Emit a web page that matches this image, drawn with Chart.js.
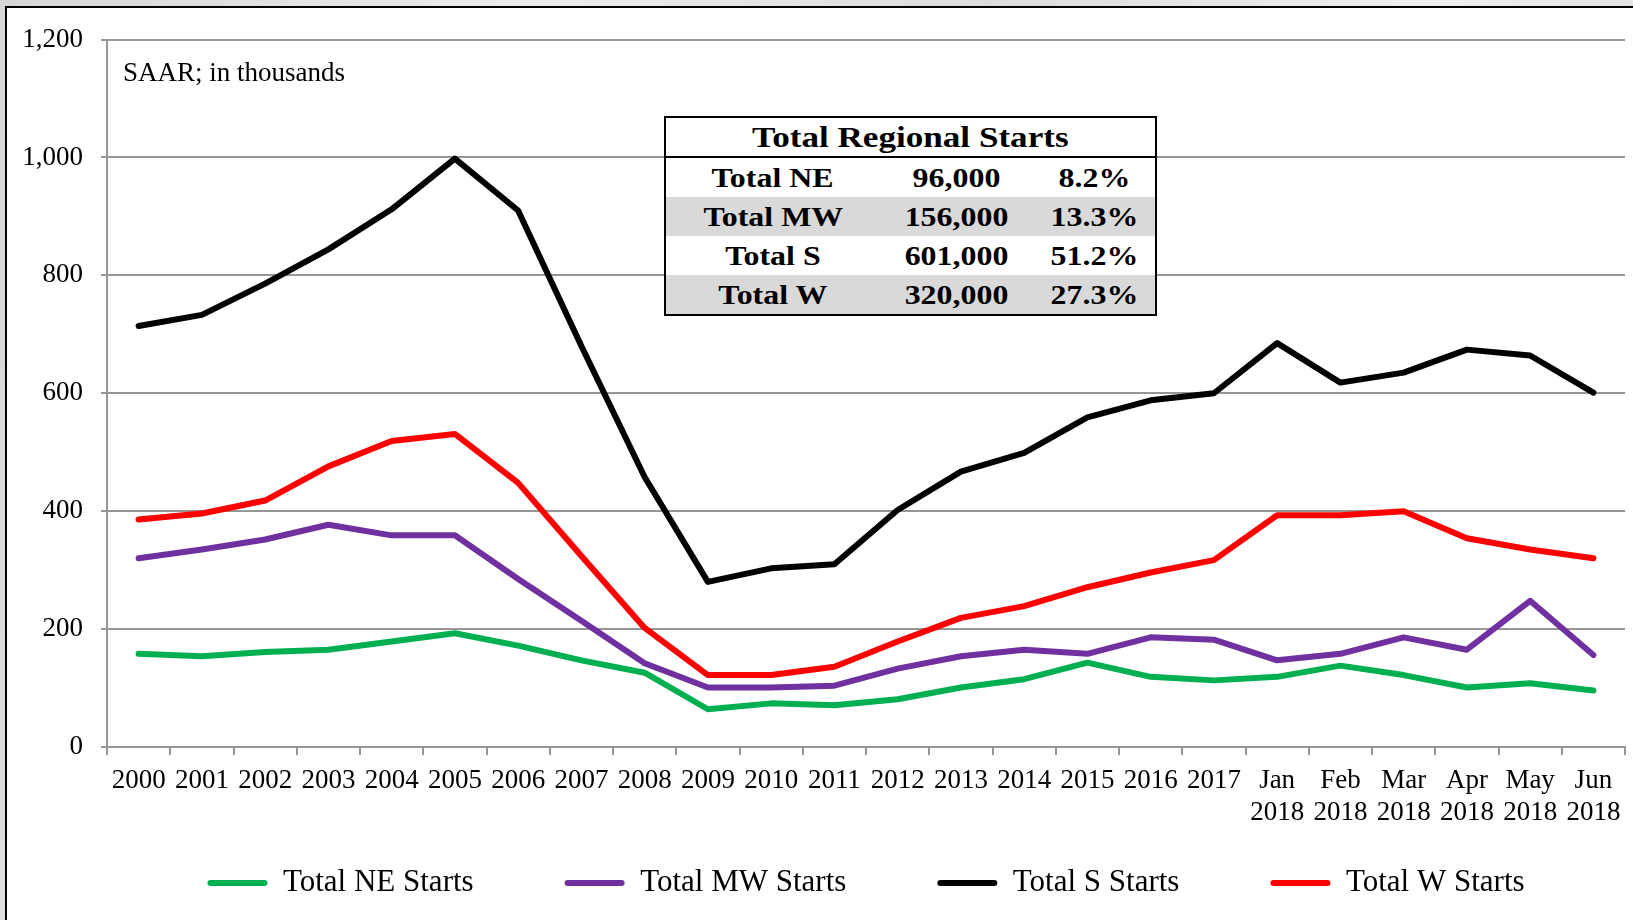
<!DOCTYPE html>
<html>
<head>
<meta charset="utf-8">
<script src="https://cdn.jsdelivr.net/npm/chart.js@4.4.1/dist/chart.umd.min.js"></script>
<style>
  html, body { margin:0; padding:0; width:1633px; height:920px; overflow:hidden; }
  body { background: linear-gradient(100deg, #d6d6d6 0%, #ececec 30%, #dcdcdc 55%, #efefef 80%, #d9d9d9 100%); position:relative; font-family:"Liberation Serif","Times New Roman",serif; }
  #frame { position:absolute; left:5px; top:6px; width:1700px; height:1000px; background:#fff; border-left:2px solid #000; border-top:2px solid #000; }
  #c { position:absolute; left:0; top:0; }
  #note { position:absolute; left:123px; top:56px; font-size:27px; color:#000; white-space:nowrap; line-height:32px; }
  #tbl { position:absolute; left:664px; top:116px; width:493px; border:2px solid #000; border-collapse:collapse; background:#fff; font-weight:bold; color:#000; box-sizing:border-box; }
  #tbl td, #tbl th { padding:0; height:39px; text-align:center; line-height:39px; white-space:nowrap; font-size:28px; }
  #tbl td span { display:inline-block; transform:scaleX(1.14); }
  #tbl th { border-bottom:2px solid #000; font-size:30px; height:38px; line-height:38px; }
  #tbl th span { display:inline-block; transform:scaleX(1.17); }
  #tbl tr.g td { background:#d9d9d9; }
</style>
</head>
<body>
<div id="frame"></div>
<canvas id="c" width="1633" height="963"></canvas>
<div id="note">SAAR; in thousands</div>
<table id="tbl"></table>
<script>
// ---- data ----
const categories = ['2000','2001','2002','2003','2004','2005','2006','2007','2008','2009','2010','2011','2012','2013','2014','2015','2016','2017',
  ['Jan','2018'],['Feb','2018'],['Mar','2018'],['Apr','2018'],['May','2018'],['Jun','2018']];
const neStarts = [158,154,161,165,179,193,172,147,126,64,74,71,81,101,115,143,119,113,119,138,122,101,108,96];
const mwStarts = [320,335,352,377,359,359,285,214,142,101,101,104,133,154,165,158,186,182,147,158,186,165,248,156];
const sStarts  = [714,733,786,844,912,998,910,680,458,280,303,310,402,467,499,559,588,600,685,618,635,674,664,601];
const wStarts  = [386,396,418,476,519,531,448,324,202,122,122,136,179,219,239,271,296,317,393,393,400,354,335,320];
const seriesNames = ['Total NE Starts','Total MW Starts','Total S Starts','Total W Starts'];
const seriesColors = ['#00b050','#7030a0','#000000','#ff0000'];
const yTicks = [0,200,400,600,800,1000,1200];
const tableTitle = 'Total Regional Starts';
const tableRegions = ['Total NE','Total MW','Total S','Total W'];
const tableUnits = ['96,000','156,000','601,000','320,000'];
const tableShares = ['8.2%','13.3%','51.2%','27.3%'];

// ---- table ----
(function(){
  const t = document.getElementById('tbl');
  let h = '<tr><th colspan="3"><span>' + tableTitle + '</span></th></tr>';
  tableRegions.forEach((r,i) => {
    h += '<tr class="' + (i % 2 ? 'g' : '') + '"><td style="width:214px"><span>' + r + '</span></td><td style="width:153px"><span>' +
      tableUnits[i] + '</span></td><td><span>' + tableShares[i] + '</span></td></tr>';
  });
  t.innerHTML = h;
})();

const serif = '"Liberation Serif","Times New Roman",serif';
const allSeries = [neStarts, mwStarts, sStarts, wStarts];

// lifts the legend row up into the space below the category labels
const legendLift = {
  id: 'legendLift',
  afterLayout(chart) {
    const l = chart.legend;
    if (l) { l.top -= 54.5; l.bottom -= 54.5; }
  }
};

new Chart(document.getElementById('c'), {
  type: 'line',
  data: {
    labels: categories,
    datasets: allSeries.map((d,i) => ({
      label: seriesNames[i],
      data: d,
      borderColor: seriesColors[i],
      backgroundColor: seriesColors[i],
      borderWidth: 6,
      pointRadius: 0,
      tension: 0,
      borderJoinStyle: 'round',
      borderCapStyle: 'round',
      fill: false
    }))
  },
  plugins: [legendLift],
  options: {
    responsive: false,
    animation: false,
    devicePixelRatio: 1,
    layout: { padding: { top: 39.5, right: 8, left: 0, bottom: 0 } },
    plugins: {
      tooltip: { enabled: false },
      legend: {
        position: 'bottom',
        fullSize: false,
        labels: {
          boxWidth: 60,
          boxHeight: 6,
          padding: 91,
          color: '#000',
          font: { family: serif, size: 31 },
          useBorderRadius: true,
          borderRadius: 3,
          generateLabels: (chart) => chart.data.datasets.map((ds, i) => ({
            text: ds.label,
            fillStyle: ds.borderColor,
            strokeStyle: ds.borderColor,
            lineWidth: 0,
            borderRadius: 3,
            fontColor: '#000',
            hidden: false,
            datasetIndex: i
          }))
        }
      }
    },
    scales: {
      x: {
        offset: true,
        grid: { display: true, drawOnChartArea: false, drawTicks: true, tickLength: 8, offset: true, color: '#969696', lineWidth: 2 },
        border: { display: true, color: '#969696', width: 2 },
        ticks: { color: '#000', font: { family: serif, size: 27, lineHeight: 1.185 }, padding: 10, maxRotation: 0, autoSkip: false },
        afterFit: (s) => { s.height = 84; }
      },
      y: {
        min: 0, max: 1200,
        afterBuildTicks: (s) => { s.ticks = yTicks.map(v => ({ value: v })); },
        grid: { color: '#969696', lineWidth: 2, tickLength: 6, drawTicks: true },
        border: { display: true, color: '#969696', width: 2 },
        ticks: { color: '#000', font: { family: serif, size: 27 }, padding: 18,
          callback: (v) => v.toLocaleString('en-US') },
        afterFit: (s) => { s.width = 107; }
      }
    }
  }
});
</script>
</body>
</html>
